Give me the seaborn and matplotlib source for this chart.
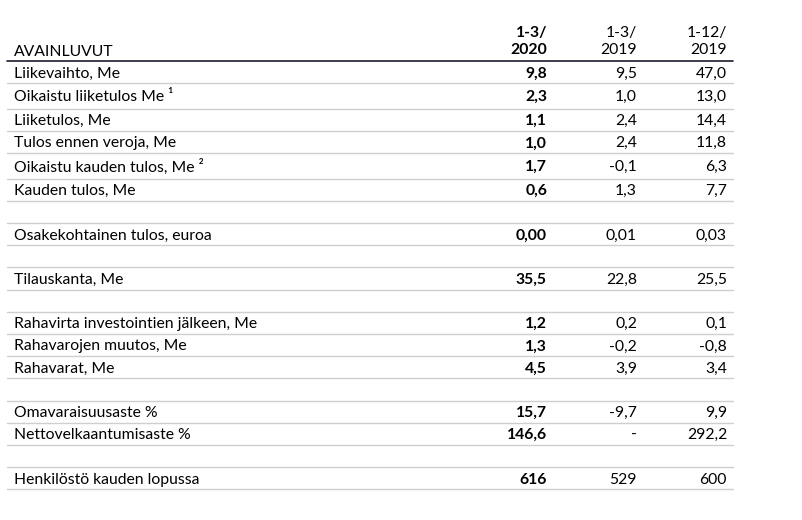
import matplotlib.pyplot as plt
import seaborn as sns

# Avainluvut-taulukko
rivit = ["Liikevaihto, Me", "Oikaistu liiketulos Me \u00b9", "Liiketulos, Me",
         "Tulos ennen veroja, Me", "Oikaistu kauden tulos, Me \u00b2", "Kauden tulos, Me",
         "", "Osakekohtainen tulos, euroa", "", "Tilauskanta, Me", "",
         "Rahavirta investointien jälkeen, Me", "Rahavarojen muutos, Me", "Rahavarat, Me", "",
         "Omavaraisuusaste %", "Nettovelkaantumisaste %", "", "Henkilöstö kauden lopussa"]
q1_2020 = ["9,8", "2,3", "1,1", "1,0", "1,7", "0,6", "", "0,00", "", "35,5", "",
           "1,2", "1,3", "4,5", "", "15,7", "146,6", "", "616"]
q1_2019 = ["9,5", "1,0", "2,4", "2,4", "-0,1", "1,3", "", "0,01", "", "22,8", "",
           "0,2", "-0,2", "3,9", "", "-9,7", "-", "", "529"]
v_2019 = ["47,0", "13,0", "14,4", "11,8", "6,3", "7,7", "", "0,03", "", "25,5", "",
          "0,1", "-0,8", "3,4", "", "9,9", "292,2", "", "600"]
otsikot = ["1-3/\n2020", "1-3/\n2019", "1-12/\n2019"]

sns.set_theme(style="white")
plt.rcParams['font.family'] = ['Lato', 'DejaVu Sans']

fig = plt.figure(figsize=(8.02, 5.20), dpi=100)
ax = fig.add_axes([0, 0, 1, 1])
ax.set_xlim(0, 802)
ax.set_ylim(520, 0)
ax.axis('off')

vasen, oikea = 7, 733
sarake_x = [547, 637, 727]
fs = 11.3

# otsikkorivi
ax.text(14, 52, "AVAINLUVUT", fontsize=fs, ha='left', va='center', color='black')
for i, (x, o) in enumerate(zip(sarake_x, otsikot)):
    ax.text(x, 41.5, o, fontsize=fs, ha='right', va='center', linespacing=1.35,
            fontweight='bold' if i == 0 else 'normal', color='black')
ax.plot([vasen, oikea], [61, 61], color='#1c1c2c', lw=1.2)

y = 61
for nimi, a, b, c in zip(rivit, q1_2020, q1_2019, v_2019):
    h = 25.5 if ('\u00b9' in nimi or '\u00b2' in nimi) else 22.2
    yc = y + h / 2 + 1.3
    ax.text(14, yc, nimi, fontsize=fs, ha='left', va='center', color='black')
    for i, (x, v) in enumerate(zip(sarake_x, [a, b, c])):
        ax.text(x, yc, v, fontsize=fs, ha='right', va='center', color='black',
                fontweight='bold' if i == 0 else 'normal')
    y += h
    ax.plot([vasen, oikea], [y, y], color='#cfcfcf', lw=1.0)

fig.savefig('out.png', dpi=100, facecolor='white')
